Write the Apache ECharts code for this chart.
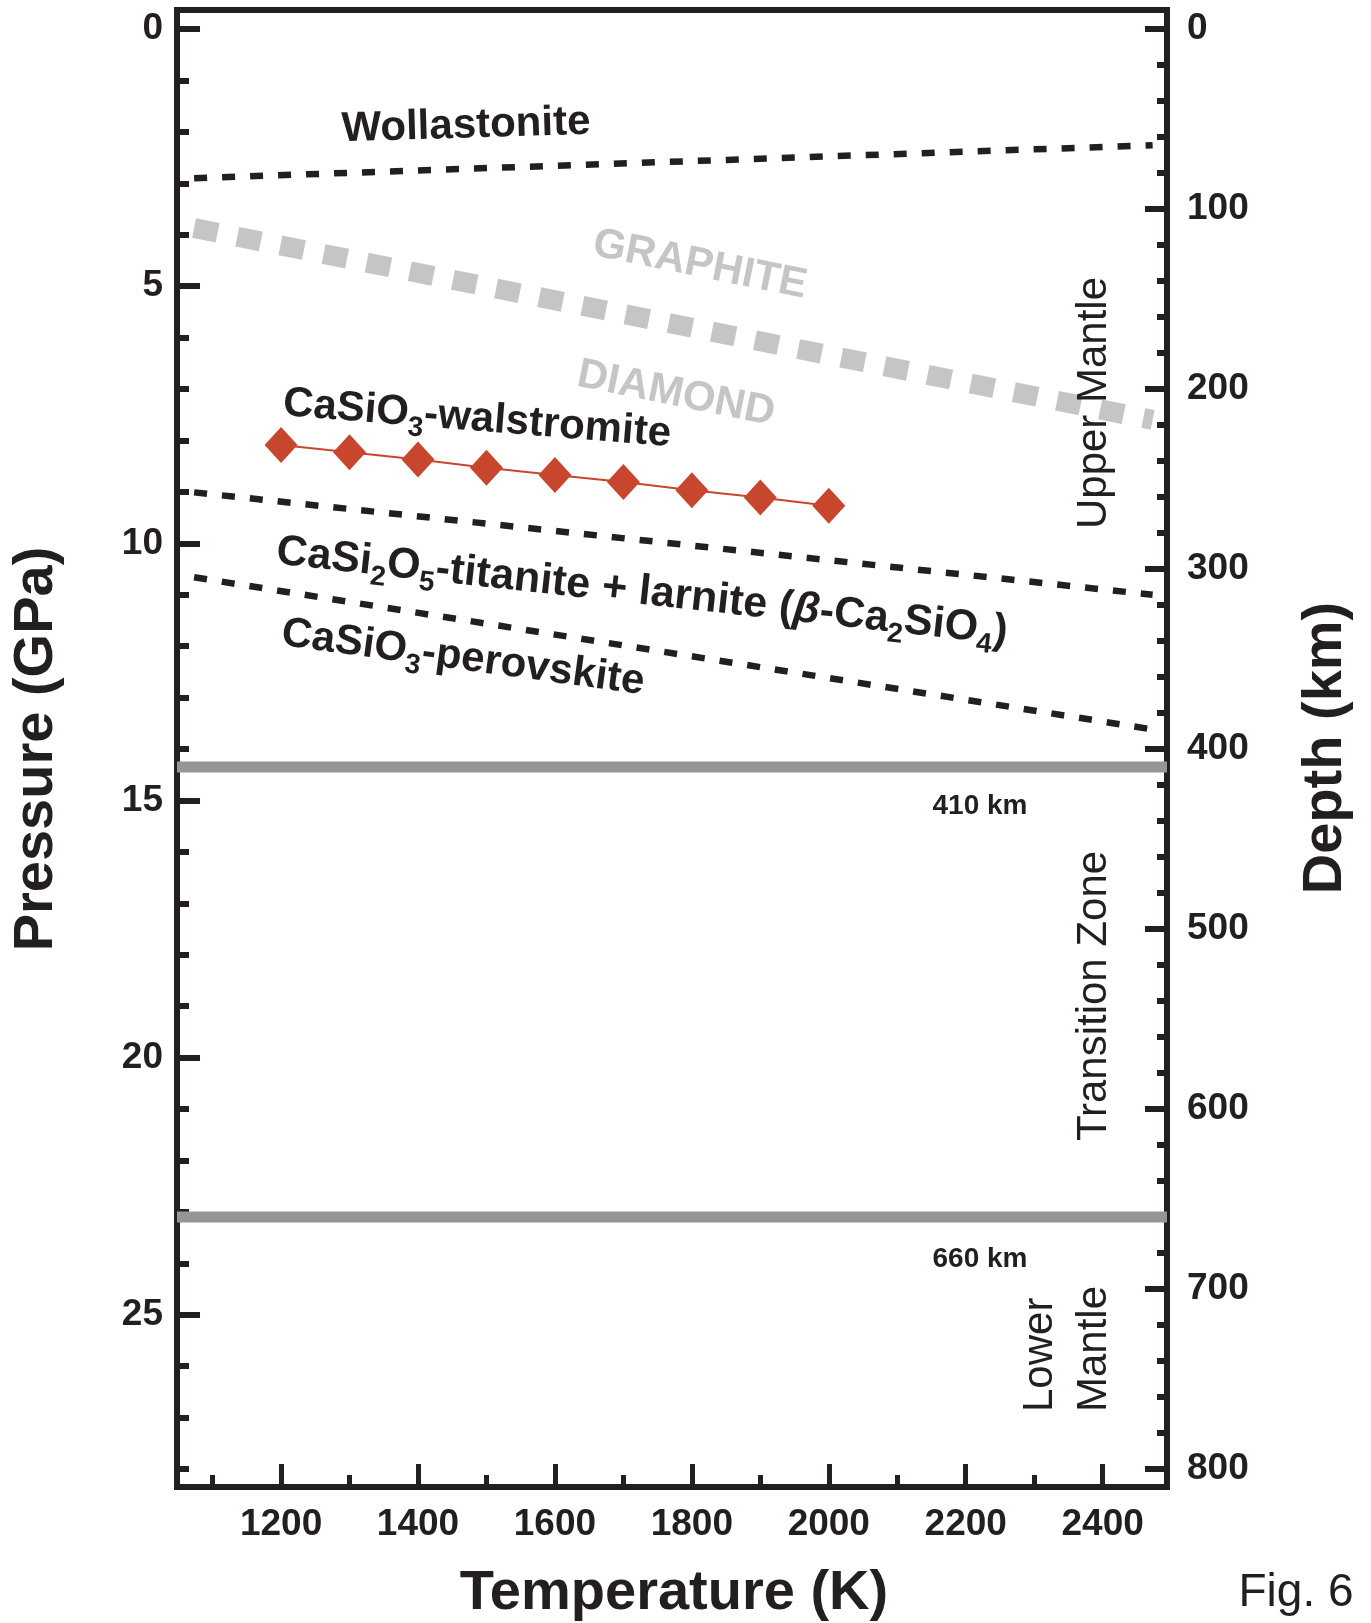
<!DOCTYPE html>
<html>
<head>
<meta charset="utf-8">
<script src="https://cdn.jsdelivr.net/npm/echarts@6/dist/echarts.min.js"></script>
<style>
  html, body { margin: 0; padding: 0; background: #fff; }
  #chart { width: 1371px; height: 1623px; }
</style>
</head>
<body>
<div id="chart"></div>
<script>
// axis ranges (Temperature in K, Pressure in GPa, Depth in km)
const tMin = 1048
const tMax = 2494
const pMin = -0.37
const pMax = 28.35
const kmPerGPa = 800 / 28

const tempMajor = [1200, 1400, 1600, 1800, 2000, 2200, 2400]
const tempMinor = [1100, 1300, 1500, 1700, 1900, 2100, 2300]
const pressMajor = [0, 5, 10, 15, 20, 25]
const pressMinor = [1, 2, 3, 4, 6, 7, 8, 9, 11, 12, 13, 14, 16, 17, 18, 19, 21, 22, 23, 24, 26, 27, 28]
const depthMajor = [0, 100, 200, 300, 400, 500, 600, 700, 800]
const depthMinor = []
for (let d = 20; d < 800; d += 20) {
  if (d % 100 !== 0) depthMinor.push(d)
}

// phase boundaries [T, P]
const wollastonite = [[1073, 2.90], [2473, 2.26]]
const graphiteDiamond = [[1073, 3.87], [2473, 7.60]]
const titaniteLarnite = [[1073, 9.01], [2473, 11.0]]
const perovskite = [[1073, 10.66], [2473, 13.62]]

// CaSiO3-walstromite experiments
const walTemp = [1200, 1300, 1400, 1500, 1600, 1700, 1800, 1900, 2000]
const walPress = [8.09, 8.23, 8.37, 8.53, 8.67, 8.81, 8.97, 9.11, 9.27]

// seismic discontinuities (km)
const discontinuities = [410, 660]

const ink = '#231f20'
const grey = '#c4c5c7'
const FONT = 'Liberation Sans, Arial, Helvetica, sans-serif'
const GRID_H = 1477

const chart = echarts.init(document.getElementById('chart'))

const tickLabel = {
  fontFamily: FONT, fontWeight: 'bold', fontSize: 37, color: ink,
  formatter: (v) => String(v)
}

const txt = (text, x, y, opts) => ({
  type: 'text',
  x: x,
  y: y,
  rotation: (opts && opts.rot) || 0,
  z: 100,
  style: Object.assign({
    text: text,
    fill: ink,
    fontFamily: FONT,
    fontWeight: 'bold',
    fontSize: 40,
    align: 'center',
    verticalAlign: 'middle'
  }, opts && opts.style)
})

const richFor = (size) => ({
  sub: { fontSize: Math.round(size * 0.66), fontWeight: 'bold', fontFamily: FONT, verticalAlign: 'bottom', lineHeight: Math.round(size * 0.66) },
  beta: { fontSize: size, fontWeight: 'bold', fontStyle: 'italic', fontFamily: FONT }
})

const option = {
  animation: false,
  backgroundColor: '#fff',
  grid: {
    left: 177, top: 10, width: 990, height: GRID_H,
    show: true, borderColor: ink, borderWidth: 6, backgroundColor: 'transparent'
  },
  xAxis: [
    {
      type: 'value', min: tMin, max: tMax, position: 'bottom',
      axisLine: { show: true, onZero: false, lineStyle: { color: ink, width: 6 } },
      axisTick: { show: true, inside: true, length: 23, lineStyle: { color: ink, width: 5 }, customValues: tempMajor },
      axisLabel: Object.assign({ margin: 19, customValues: tempMajor }, tickLabel),
      splitLine: { show: false }
    },
    {
      // minor ticks: a top axis pushed down onto the bottom edge
      type: 'value', min: tMin, max: tMax, position: 'top', offset: -GRID_H,
      axisLine: { show: false, onZero: false },
      axisTick: { show: true, inside: false, length: 12, lineStyle: { color: ink, width: 5 }, customValues: tempMinor },
      axisLabel: { show: false },
      splitLine: { show: false }
    }
  ],
  yAxis: [
    {
      type: 'value', inverse: true, min: pMin, max: pMax, position: 'left',
      axisLine: { show: true, onZero: false, lineStyle: { color: ink, width: 6 } },
      axisTick: { show: true, inside: true, length: 23, lineStyle: { color: ink, width: 6 }, customValues: pressMajor },
      axisLabel: Object.assign({ margin: 14, customValues: pressMajor }, tickLabel),
      splitLine: { show: false }
    },
    {
      type: 'value', inverse: true, min: pMin, max: pMax, position: 'left',
      axisLine: { show: false, onZero: false },
      axisTick: { show: true, inside: true, length: 12, lineStyle: { color: ink, width: 6 }, customValues: pressMinor },
      axisLabel: { show: false },
      splitLine: { show: false }
    },
    {
      type: 'value', inverse: true, min: pMin * kmPerGPa, max: pMax * kmPerGPa, position: 'right',
      axisLine: { show: true, onZero: false, lineStyle: { color: ink, width: 6 } },
      axisTick: { show: true, inside: true, length: 22, lineStyle: { color: ink, width: 6 }, customValues: depthMajor },
      axisLabel: Object.assign({ margin: 20, customValues: depthMajor }, tickLabel),
      splitLine: { show: false }
    },
    {
      type: 'value', inverse: true, min: pMin * kmPerGPa, max: pMax * kmPerGPa, position: 'right',
      axisLine: { show: false, onZero: false },
      axisTick: { show: true, inside: true, length: 10, lineStyle: { color: ink, width: 6 }, customValues: depthMinor },
      axisLabel: { show: false },
      splitLine: { show: false }
    }
  ],
  series: [
    {
      name: 'Wollastonite', type: 'line', data: wollastonite, showSymbol: false,
      lineStyle: { color: ink, width: 6.5, type: [13, 15], cap: 'butt' }
    },
    {
      name: 'Graphite-Diamond', type: 'line', data: graphiteDiamond, showSymbol: false,
      lineStyle: { color: grey, width: 20, type: [24, 20], cap: 'butt' }
    },
    {
      name: 'Titanite+Larnite', type: 'line', data: titaniteLarnite, showSymbol: false,
      lineStyle: { color: ink, width: 6.5, type: [13, 15], cap: 'butt' }
    },
    {
      name: 'Perovskite', type: 'line', data: perovskite, showSymbol: false,
      lineStyle: { color: ink, width: 6.5, type: [13, 15], cap: 'butt' }
    },
    {
      name: '410', type: 'line', yAxisIndex: 2, showSymbol: false,
      data: [[tMin, discontinuities[0]], [tMax, discontinuities[0]]],
      lineStyle: { color: '#939598', width: 11 }
    },
    {
      name: '660', type: 'line', yAxisIndex: 2, showSymbol: false,
      data: [[tMin, discontinuities[1]], [tMax, discontinuities[1]]],
      lineStyle: { color: '#939598', width: 11 }
    },
    {
      name: 'CaSiO3-walstromite', type: 'line',
      data: walTemp.map((t, i) => [t, walPress[i]]),
      symbol: 'diamond', symbolSize: [33, 36], showSymbol: true,
      itemStyle: { color: '#c8462e' },
      lineStyle: { color: '#c8462e', width: 2 },
      z: 5
    }
  ],
  graphic: [
    txt('Wollastonite', 466, 126, { rot: 0.03, style: { fontSize: 42 } }),
    txt('GRAPHITE', 700, 265, { rot: -0.2, style: { fill: grey, fontSize: 42 } }),
    txt('DIAMOND', 676, 394, { rot: -0.2, style: { fill: grey, fontSize: 42 } }),
    txt('CaSiO{sub|3}-walstromite', 477, 419, { rot: -0.08, style: { fontSize: 42, lineHeight: 56, rich: richFor(42) } }),
    txt('CaSi{sub|2}O{sub|5}-titanite + larnite ({beta|β}-Ca{sub|2}SiO{sub|4})', 642, 592, { rot: -0.11, style: { fontSize: 43, lineHeight: 57, rich: richFor(43) } }),
    txt('CaSiO{sub|3}-perovskite', 463, 658, { rot: -0.135, style: { fontSize: 42, lineHeight: 56, rich: richFor(42) } }),
    txt('410 km', 980, 806, { style: { fontSize: 28 } }),
    txt('660 km', 980, 1259, { style: { fontSize: 28 } }),
    txt('Upper Mantle', 1094, 403, { rot: Math.PI / 2, style: { fontWeight: 'normal', fontSize: 42 } }),
    txt('Transition Zone', 1094, 996, { rot: Math.PI / 2, style: { fontWeight: 'normal', fontSize: 42 } }),
    txt('Lower\nMantle', 1067, 1412, { rot: Math.PI / 2, style: { fontWeight: 'normal', fontSize: 42, lineHeight: 54, align: 'left' } }),
    txt('Pressure (GPa)', 37, 749, { rot: Math.PI / 2, style: { fontSize: 56 } }),
    txt('Depth (km)', 1326, 748, { rot: Math.PI / 2, style: { fontSize: 56 } }),
    txt('Temperature (K)', 674, 1594, { style: { fontSize: 56 } }),
    txt('Fig. 6', 1296, 1593, { style: { fontWeight: 'normal', fontSize: 46 } })
  ]
}

chart.setOption(option)
</script>
</body>
</html>
